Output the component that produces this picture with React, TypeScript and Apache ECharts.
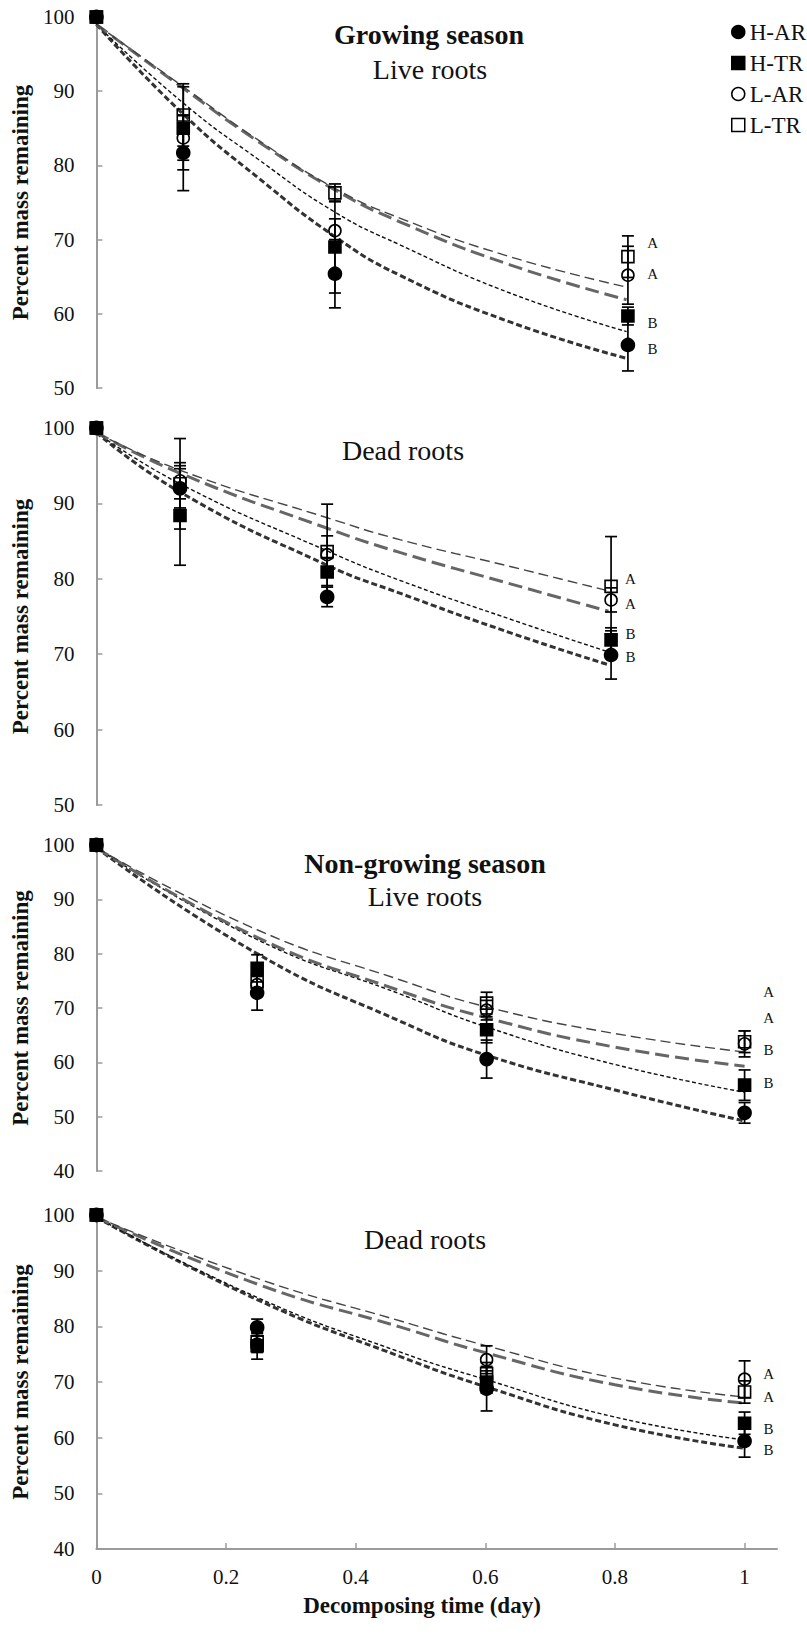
import React, { useEffect, useRef } from "react";
import * as echarts from "echarts";

const FONT = "Liberation Serif, Times New Roman, Times, serif";
const AXIS = "#9a9a9a";
const INK = "#111";

const TREAT = ["H-AR", "H-TR", "L-AR", "L-TR"];
const X_TICKS = [0, 0.2, 0.4, 0.6, 0.8, 1];

// ---- Panel 1: Growing season, live roots ----
const p1T = [0, 0.134, 0.368, 0.82];
const p1Mean = [
  [100, 81.7, 65.4, 55.8],
  [100, 85.0, 69.0, 59.7],
  [100, 83.7, 71.2, 65.2],
  [100, 86.8, 76.3, 67.7],
];
const p1SE = [
  [0, 5.1, 4.6, 3.5],
  [0, 5.6, 6.2, 1.2],
  [0, 3.0, 1.6, 3.9],
  [0, 4.2, 1.2, 2.8],
];
const p1FitT = [0, 0.134, 0.25, 0.368, 0.468, 0.638, 0.818];
const p1Fit = [
  [99.0, 86.9, 78.3, 70.4, 65.2, 58.9, 54.0],
  [99.0, 88.4, 80.8, 73.7, 69.3, 62.8, 57.6],
  [99.0, 90.4, 83.2, 76.7, 72.4, 66.6, 61.9],
  [99.0, 90.6, 83.4, 76.9, 72.9, 67.7, 63.6],
];
const p1LetterX = 0.858;
const p1LetterY = [69.5, 65.4, 58.8, 55.3];
const p1Letters = ["A", "A", "B", "B"];

// ---- Panel 2: Growing season, dead roots ----
const p2T = [0, 0.129, 0.356, 0.794];
const p2Mean = [
  [100, 92.0, 77.6, 69.9],
  [100, 88.4, 80.9, 71.9],
  [100, 93.0, 83.2, 77.2],
  [100, 92.6, 83.6, 79.0],
];
const p2SE = [
  [0, 2.6, 1.3, 3.2],
  [0, 6.6, 1.8, 1.6],
  [0, 2.4, 2.5, 1.6],
  [0, 6.0, 6.3, 6.6],
];
const p2FitT = [0, 0.129, 0.356, 0.468, 0.64, 0.79];
const p2Fit = [
  [99.4, 91.5, 81.8, 78.1, 72.8, 68.6],
  [99.4, 92.6, 83.7, 79.8, 74.6, 70.3],
  [99.4, 94.0, 86.7, 83.5, 79.3, 75.7],
  [99.4, 94.4, 88.1, 85.2, 81.6, 78.4],
];
const p2LetterX = 0.824;
const p2LetterY = [80.0, 76.7, 72.7, 69.6];
const p2Letters = ["A", "A", "B", "B"];

// ---- Panel 3: Non-growing season, live roots ----
const p3T = [0, 0.248, 0.602, 1.0];
const p3Mean = [
  [100, 72.8, 60.6, 50.7],
  [100, 77.3, 66.0, 55.8],
  [100, 74.3, 69.6, 63.4],
  [100, 74.8, 70.9, 63.8],
];
const p3SE = [
  [0, 3.2, 3.5, 1.9],
  [0, 2.5, 2.4, 2.8],
  [0, 1.5, 1.8, 2.4],
  [0, 1.5, 2.0, 2.0],
];
const p3FitT = [0, 0.248, 0.468, 0.602, 0.8, 1.0];
const p3Fit = [
  [99.5, 80.0, 67.6, 61.3, 54.9, 49.2],
  [99.5, 82.6, 72.6, 66.5, 59.6, 54.5],
  [99.5, 83.0, 73.2, 68.2, 62.8, 59.3],
  [99.5, 84.4, 75.2, 70.2, 65.3, 61.9],
];
const p3LetterX = 1.037;
const p3LetterY = [72.9, 68.2, 62.3, 56.2];
const p3Letters = ["A", "A", "B", "B"];

// ---- Panel 4: Non-growing season, dead roots ----
const p4T = [0, 0.248, 0.602, 1.0];
const p4Mean = [
  [100, 79.8, 68.8, 59.4],
  [100, 76.5, 70.0, 62.6],
  [100, 76.8, 74.0, 70.5],
  [100, 77.2, 71.5, 68.2],
];
const p4SE = [
  [0, 1.5, 4.0, 2.9],
  [0, 2.4, 2.0, 2.0],
  [0, 1.5, 2.5, 3.3],
  [0, 1.5, 2.0, 2.0],
];
const p4FitT = [0, 0.248, 0.468, 0.602, 0.8, 1.0];
const p4Fit = [
  [99.6, 84.8, 74.6, 69.1, 62.3, 58.1],
  [99.6, 85.2, 75.4, 70.4, 63.7, 59.6],
  [99.6, 87.6, 79.9, 75.2, 69.5, 66.2],
  [99.6, 88.6, 81.0, 76.5, 70.7, 67.3],
];
const p4LetterX = 1.037;
const p4LetterY = [71.4, 67.3, 61.6, 57.8];
const p4Letters = ["A", "A", "B", "B"];

const Y_MIN = [50, 50, 40, 40];

const PANELS = [
  { t: p1T, mean: p1Mean, se: p1SE, fitT: p1FitT, fit: p1Fit, lx: p1LetterX, ly: p1LetterY, letters: p1Letters },
  { t: p2T, mean: p2Mean, se: p2SE, fitT: p2FitT, fit: p2Fit, lx: p2LetterX, ly: p2LetterY, letters: p2Letters },
  { t: p3T, mean: p3Mean, se: p3SE, fitT: p3FitT, fit: p3Fit, lx: p3LetterX, ly: p3LetterY, letters: p3Letters },
  { t: p4T, mean: p4Mean, se: p4SE, fitT: p4FitT, fit: p4Fit, lx: p4LetterX, ly: p4LetterY, letters: p4Letters },
];

// ---- layout / styles ----
const GRIDS = [
  { left: 96, top: 17, width: 681, height: 371 },
  { left: 96, top: 428, width: 681, height: 377 },
  { left: 96, top: 845, width: 681, height: 326 },
  { left: 96, top: 1215, width: 681, height: 334 },
];

const HOLLOW = "rgba(255,255,255,0)";
const MARKERS: any[] = [
  { symbol: "circle", size: 13, color: "#000", border: "#000" },
  { symbol: "rect", size: 12, color: "#000", border: "#000" },
  { symbol: "circle", size: 12, color: HOLLOW, border: "#000" },
  { symbol: "rect", size: 12, color: HOLLOW, border: "#000" },
];
const FITS: any[] = [
  { color: "#333", width: 3, type: [6, 3] },
  { color: "#111", width: 1.4, type: [4, 2.5] },
  { color: "#666", width: 3, type: [14, 6] },
  { color: "#444", width: 1.4, type: [10, 5] },
];

function buildOption() {
  const series: any[] = [];
  PANELS.forEach((p, i) => {
    TREAT.forEach((name, k) => {
      series.push({
        type: "line",
        name: name + " fit",
        xAxisIndex: i,
        yAxisIndex: i,
        data: p.fitT.map((t, j) => [t, p.fit[k][j]]),
        smooth: true,
        symbol: "none",
        showSymbol: false,
        silent: true,
        lineStyle: { color: FITS[k].color, width: FITS[k].width, type: FITS[k].type },
        z: 2,
      });
    });
    TREAT.forEach((name, k) => {
      const data = p.t
        .map((t, j) => [t, p.mean[k][j] - p.se[k][j], p.mean[k][j] + p.se[k][j], p.se[k][j]])
        .filter((d) => d[3] > 0);
      series.push({
        type: "custom",
        name: name + " SE",
        xAxisIndex: i,
        yAxisIndex: i,
        clip: false,
        silent: true,
        z: 3,
        data,
        renderItem: (params: any, api: any) => {
          const lo = api.coord([api.value(0), api.value(1)]);
          const hi = api.coord([api.value(0), api.value(2)]);
          const w = 6;
          const st = { stroke: "#000", lineWidth: 1.7 };
          return {
            type: "group",
            children: [
              { type: "line", shape: { x1: lo[0], y1: lo[1], x2: hi[0], y2: hi[1] }, style: st },
              { type: "line", shape: { x1: lo[0] - w, y1: lo[1], x2: lo[0] + w, y2: lo[1] }, style: st },
              { type: "line", shape: { x1: hi[0] - w, y1: hi[1], x2: hi[0] + w, y2: hi[1] }, style: st },
            ],
          };
        },
      });
    });
    TREAT.forEach((name, k) => {
      const m = MARKERS[k];
      series.push({
        type: "scatter",
        name,
        xAxisIndex: i,
        yAxisIndex: i,
        clip: false,
        symbol: m.symbol,
        symbolSize: m.size,
        itemStyle: { color: m.color, borderColor: m.border, borderWidth: 1.6, opacity: 1 },
        data: p.t.map((t, j) => [t, p.mean[k][j]]),
        z: 4,
      });
    });
    series.push({
      type: "custom",
      name: "letters " + i,
      xAxisIndex: i,
      yAxisIndex: i,
      clip: false,
      silent: true,
      z: 5,
      data: p.ly.map((y) => [p.lx, y]),
      renderItem: (params: any, api: any) => {
        const pt = api.coord([api.value(0), api.value(1)]);
        return {
          type: "text",
          x: pt[0],
          y: pt[1],
          style: {
            text: p.letters[params.dataIndex],
            fontFamily: FONT,
            fontSize: 15,
            fill: INK,
            align: "center",
            verticalAlign: "middle",
          },
        };
      },
    });
  });

  const xAxis = GRIDS.map((_, i) => {
    const show = i === 3;
    return {
      gridIndex: i,
      type: "value",
      min: 0,
      max: 1.05,
      axisLine: { show, lineStyle: { color: AXIS, width: 2 } },
      axisTick: { show, inside: true, length: 6, customValues: X_TICKS, lineStyle: { color: AXIS, width: 1.5 } },
      axisLabel: {
        show,
        customValues: X_TICKS,
        fontSize: 21,
        margin: 17,
        color: INK,
        fontFamily: FONT,
        formatter: (v: number) => String(v),
      },
      splitLine: { show: false },
    };
  });

  const yAxis = GRIDS.map((_, i) => ({
    gridIndex: i,
    type: "value",
    min: Y_MIN[i],
    max: 100,
    interval: 10,
    name: "Percent mass remaining",
    nameLocation: "middle",
    nameRotate: 90,
    nameGap: i < 2 ? 57 : 60,
    nameTextStyle: { fontSize: 23, fontWeight: "bold", fontFamily: FONT, color: INK, lineHeight: 24 },
    axisLine: { show: true, lineStyle: { color: AXIS, width: 2 } },
    axisTick: { show: true, inside: true, length: 6, lineStyle: { color: AXIS, width: 1.5 } },
    axisLabel: { fontSize: 21, margin: 22, color: INK, fontFamily: FONT },
    splitLine: { show: false },
  }));

  const title = (text: string, x: number, y: number, bold: boolean, size = 28) => ({
    type: "text",
    x,
    y,
    silent: true,
    style: {
      text,
      fontFamily: FONT,
      fontSize: size,
      fontWeight: bold ? "bold" : "normal",
      fill: INK,
      align: "center",
      verticalAlign: "middle",
    },
  });

  return {
    animation: false,
    backgroundColor: "#fff",
    textStyle: { fontFamily: FONT },
    grid: GRIDS.map((g) => ({ ...g, containLabel: false })),
    xAxis,
    yAxis,
    legend: {
      orient: "vertical",
      left: 726,
      top: 15,
      itemWidth: 13,
      itemHeight: 13,
      itemGap: 7,
      selectedMode: false,
      textStyle: { fontSize: 23, fontFamily: FONT, color: INK, lineHeight: 24 },
      data: [
        { name: "H-AR", icon: "circle", itemStyle: { color: "#000", borderColor: "#000", borderWidth: 1.5 } },
        { name: "H-TR", icon: "rect", itemStyle: { color: "#000", borderColor: "#000", borderWidth: 1.5 } },
        { name: "L-AR", icon: "circle", itemStyle: { color: "#fff", borderColor: "#000", borderWidth: 1.5 } },
        { name: "L-TR", icon: "rect", itemStyle: { color: "#fff", borderColor: "#000", borderWidth: 1.5 } },
      ],
    },
    graphic: [
      title("Growing season", 429, 34, true),
      title("Live roots", 430, 69, false),
      title("Dead roots", 403, 450, false),
      title("Non-growing season", 425, 863, true),
      title("Live roots", 425, 896, false),
      title("Dead roots", 425, 1239, false),
      title("Decomposing time (day)", 422, 1605, true, 23),
    ],
    series,
  };
}

export default function App() {
  const ref = useRef<HTMLDivElement>(null);
  useEffect(() => {
    document.body.style.margin = "0";
    const chart = echarts.init(ref.current as HTMLDivElement, null, { renderer: "svg" });
    chart.setOption(buildOption() as any);
    return () => chart.dispose();
  }, []);
  return <div ref={ref} style={{ width: 807, height: 1638 }} />;
}
